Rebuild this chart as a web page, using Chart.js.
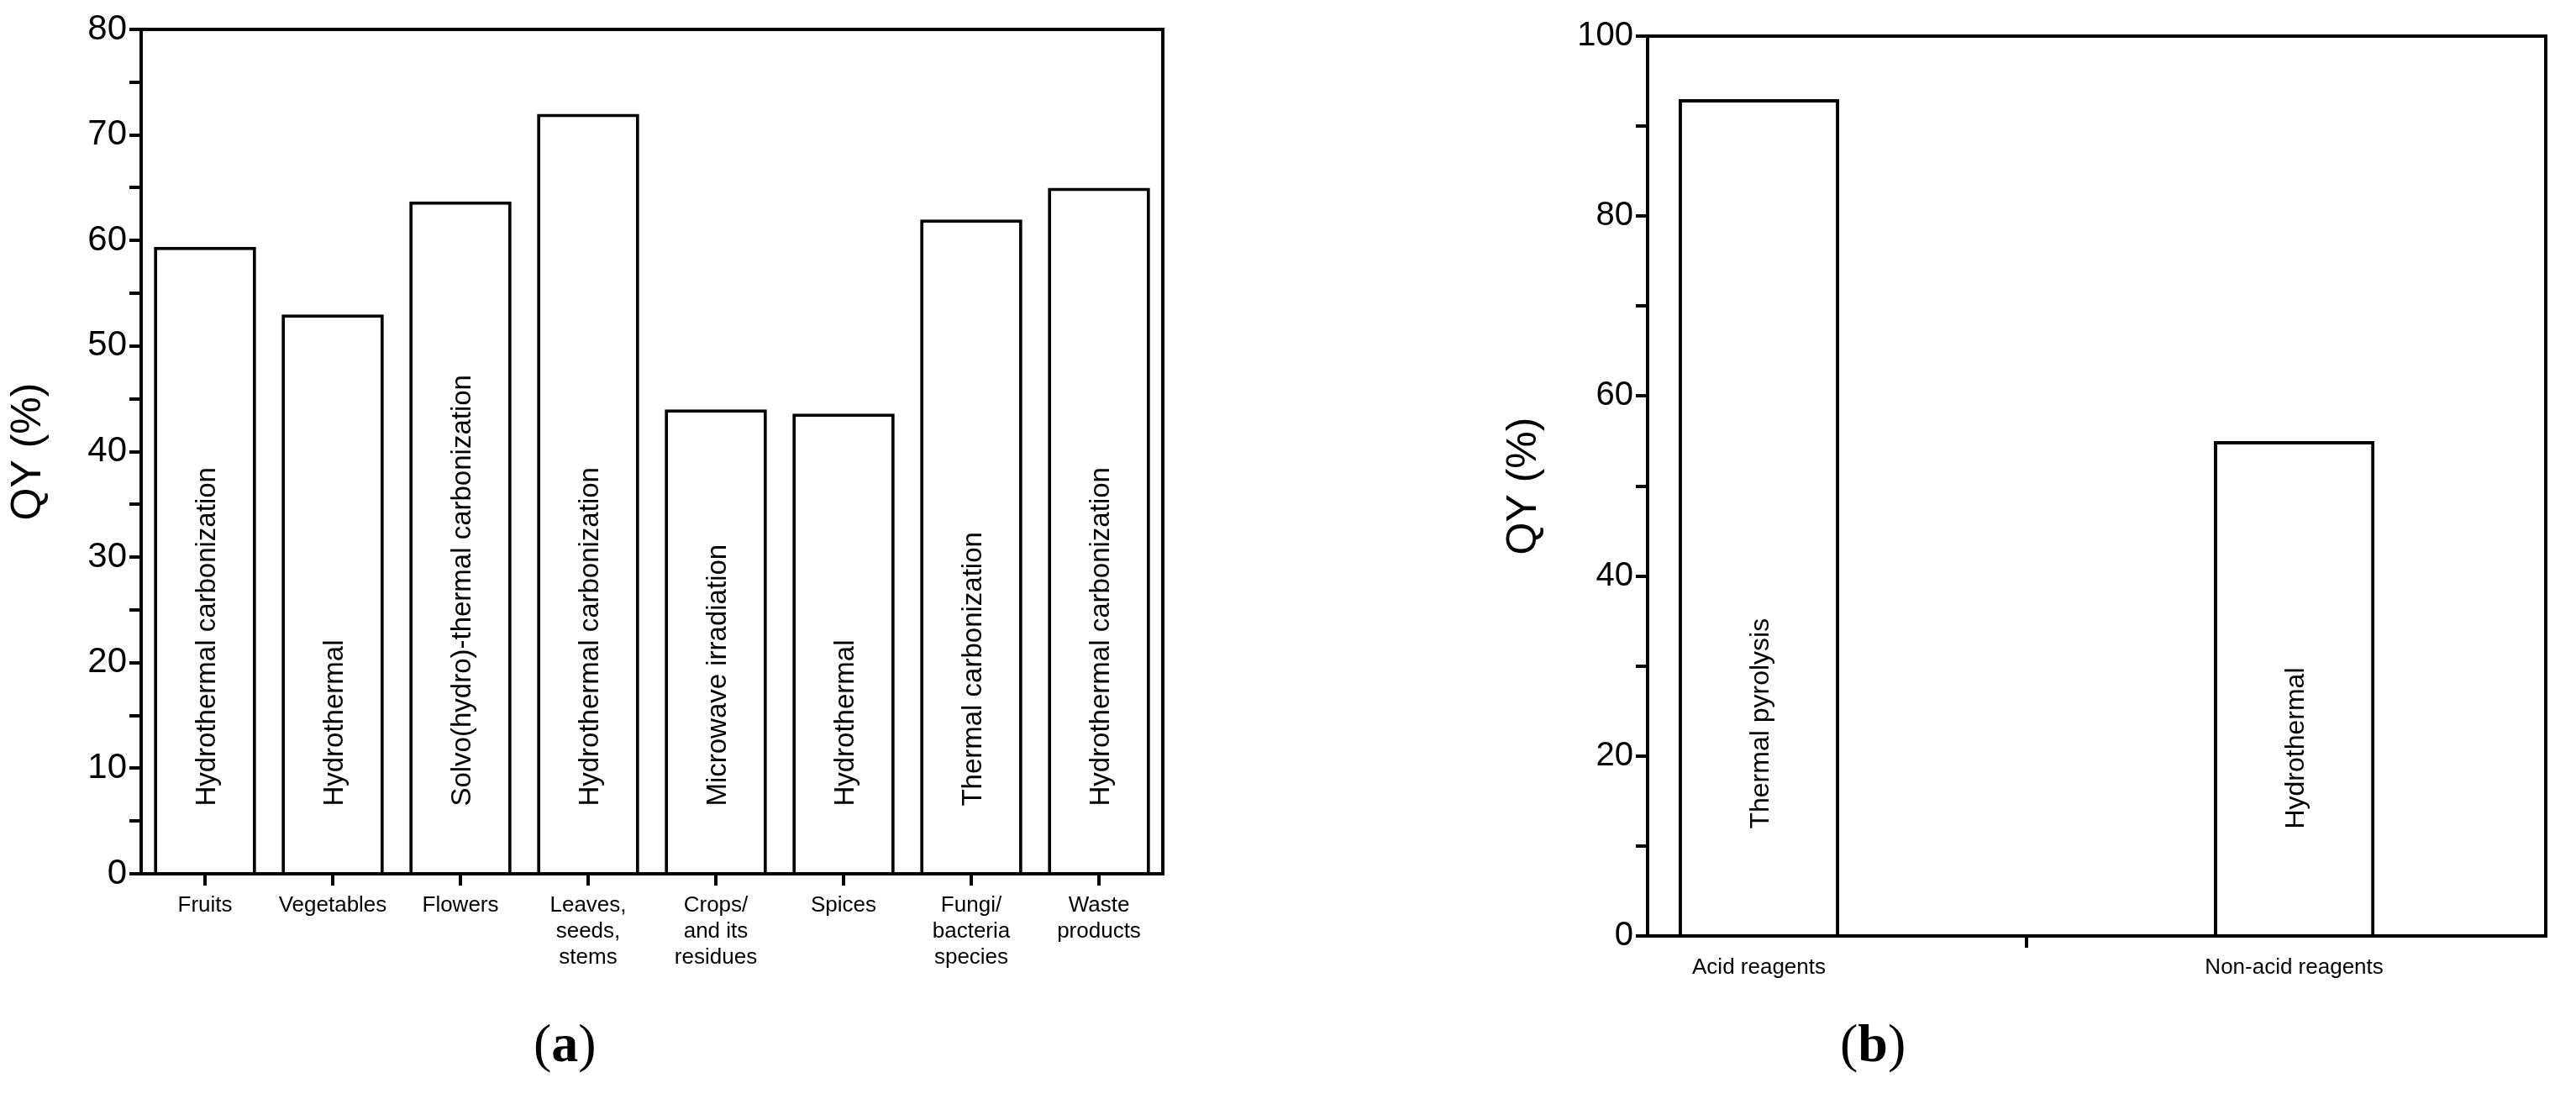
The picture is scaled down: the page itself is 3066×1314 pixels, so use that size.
<!DOCTYPE html>
<html><head><meta charset="utf-8">
<script src="https://cdn.jsdelivr.net/npm/chart.js@4"></script>
<style>
body{margin:0;background:#fff;width:3066px;height:1314px;position:relative;overflow:hidden;font-family:"Liberation Sans",Arial,sans-serif}
.wrap{position:absolute;top:0}
.cap{position:absolute;top:1205px;font-family:"Liberation Serif",serif;font-size:64px;color:#000}
</style></head><body>
<div class="wrap" style="left:0;width:1420px;height:1314px"><canvas id="chartA"></canvas></div>
<div class="wrap" style="left:1780px;width:1286px;height:1314px"><canvas id="chartB"></canvas></div>
<div class="cap" style="left:635px">(<b>a</b>)</div>
<div class="cap" style="left:2190px">(<b>b</b>)</div>
<script>
// panel (a)
const sourcesA = [['Fruits'], ['Vegetables'], ['Flowers'], ['Leaves,', 'seeds,', 'stems'], ['Crops/', 'and its', 'residues'], ['Spices'], ['Fungi/', 'bacteria', 'species'], ['Waste', 'products']];
const qyA = [59.4, 53, 63.7, 72, 44, 43.6, 62, 65];
const methodsA = ['Hydrothermal carbonization', 'Hydrothermal', 'Solvo(hydro)-thermal carbonization', 'Hydrothermal carbonization', 'Microwave irradiation', 'Hydrothermal', 'Thermal carbonization', 'Hydrothermal carbonization'];

// panel (b)
const sourcesB = ['Acid reagents', 'Non-acid reagents'];
const qyB = [93, 55];
const methodsB = ['Thermal pyrolysis', 'Hydrothermal'];

const FONT = '"Liberation Sans", Arial, sans-serif';

const frame = {
  id: 'frame',
  afterDraw(chart) {
    const a = chart.chartArea, c = chart.ctx;
    c.save(); c.strokeStyle = '#000'; c.lineWidth = 4;
    c.strokeRect(a.left, a.top, a.right - a.left, a.bottom - a.top);
    c.restore();
  }
};

const barText = {
  id: 'barText',
  afterDatasetsDraw(chart, args, opts) {
    const c = chart.ctx, y = chart.scales.y;
    chart.getDatasetMeta(0).data.forEach((bar, i) => {
      c.save();
      c.translate(bar.x + opts.size * 0.35, y.getPixelForValue(opts.base));
      c.rotate(-Math.PI / 2);
      c.font = opts.size + 'px ' + FONT;
      c.fillStyle = '#000';
      c.textAlign = 'left';
      c.textBaseline = 'alphabetic';
      c.fillText(opts.labels[i], 0, 0);
      c.restore();
    });
  }
};

function yScale(cfg) {
  return {
    min: 0, max: cfg.max,
    grid: { drawOnChartArea: false, color: '#000', lineWidth: 4, tickLength: 14 },
    border: { color: '#000', width: 4 },
    ticks: { stepSize: cfg.minor, color: '#000', font: { family: FONT, size: cfg.ySize },
      callback: v => (v % cfg.major === 0 ? v : '') },
    title: { display: true, text: 'QY (%)', color: '#000', font: { family: FONT, size: cfg.titleSize } },
    afterFit(s) { s.width = cfg.yWidth; }
  };
}

new Chart(document.getElementById('chartA'), {
  type: 'bar',
  data: { labels: sourcesA, datasets: [{ data: qyA, backgroundColor: '#fff', borderColor: '#000', borderWidth: 4, categoryPercentage: 1, barPercentage: 0.8 }] },
  plugins: [frame, barText],
  options: {
    responsive: true, maintainAspectRatio: false, animation: false,
    layout: { padding: { top: 35, right: 36, left: 0, bottom: 0 } },
    plugins: { legend: { display: false }, tooltip: { enabled: false },
      barText: { labels: methodsA, base: 6.4, size: 33 } },
    scales: {
      x: {
        grid: { drawOnChartArea: false, color: '#000', lineWidth: 4, tickLength: 14, offset: false },
        border: { color: '#000', width: 4 },
        ticks: { color: '#000', font: { family: FONT, size: 26 }, maxRotation: 0, autoSkip: false, padding: 8 },
        afterFit(s) { s.height = 274; }
      },
      y: yScale({ max: 80, minor: 5, major: 10, ySize: 42, titleSize: 50, yWidth: 168 })
    }
  }
});

new Chart(document.getElementById('chartB'), {
  type: 'bar',
  data: { datasets: [{ data: qyB.map((v, i) => ({ x: i, y: v })), backgroundColor: '#fff', borderColor: '#000', borderWidth: 4, categoryPercentage: 1, barPercentage: 0.3 }] },
  plugins: [frame, barText],
  options: {
    responsive: true, maintainAspectRatio: false, animation: false,
    layout: { padding: { top: 43, right: 36, left: 0, bottom: 0 } },
    plugins: { legend: { display: false }, tooltip: { enabled: false },
      barText: { labels: methodsB, base: 11.9, size: 32 } },
    scales: {
      x: {
        type: 'linear', min: -0.208, max: 1.47, offset: false,
        afterBuildTicks(s) { s.ticks = sourcesB.map((_, i) => ({ value: i })); },
        grid: { drawOnChartArea: false, color: '#000', lineWidth: 4, tickLength: 14 },
        border: { color: '#000', width: 4 },
        ticks: { color: '#000', font: { family: FONT, size: 26 }, maxRotation: 0, autoSkip: false, padding: 8,
          callback: v => sourcesB[v] },
        afterFit(s) { s.height = 200; }
      },
      y: yScale({ max: 100, minor: 10, major: 20, ySize: 40, titleSize: 50, yWidth: 181 })
    }
  }
});
</script>
</body></html>
